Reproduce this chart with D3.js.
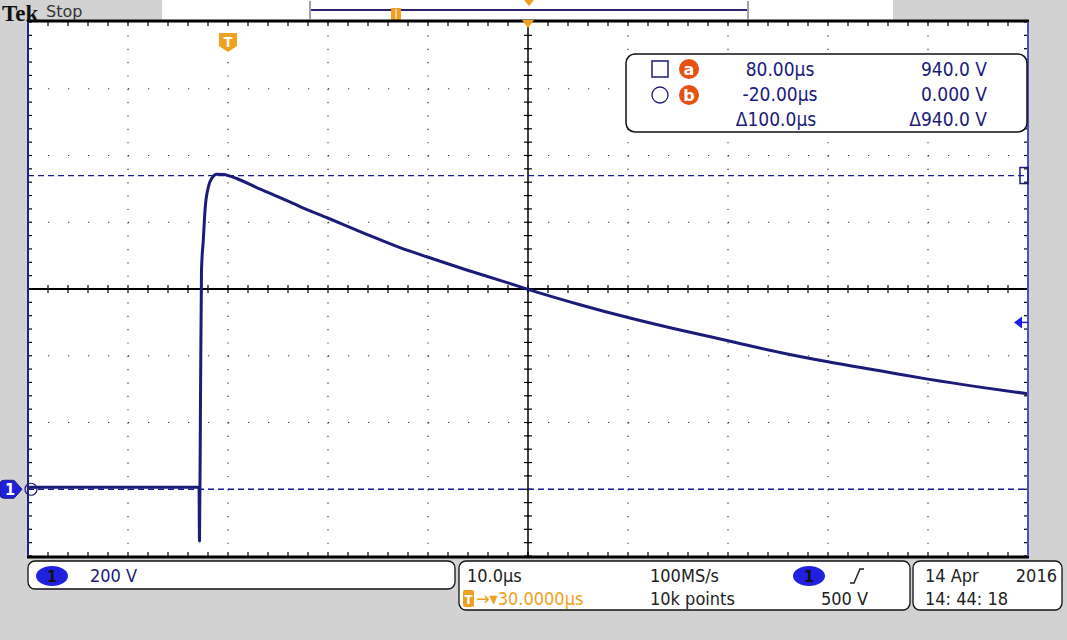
<!DOCTYPE html>
<html>
<head>
<meta charset="utf-8">
<script src="https://cdn.jsdelivr.net/npm/d3@7/dist/d3.min.js"></script>
<style>
  html, body { margin: 0; padding: 0; background: #d2d2d2; }
  svg { display: block; }
  text { font-family: "Liberation Sans Narrow", "DejaVu Sans Condensed", "Liberation Sans", sans-serif; }
</style>
</head>
<body>
<svg id="chart" width="1067" height="640"></svg>
<script>
// ---- data (time in µs relative to trigger, voltage in V) ----
const timeUs = [-20, -10, -2.9, -2.85, -2.75, -2.65, -2.47, -2.3, -1.97, -1.63, -1.13, -0.47, 0.87, 2.87, 5.2, 7.2, 10.03, 13.87, 17.2, 20.03, 23.87, 27.2, 30, 35.2, 40.2, 45.2, 50, 55.2, 60, 65.2, 70, 75.2, 80];
const voltsV = [6, 6, 6, -155, 267, 656, 746, 836, 905, 931, 944, 943, 931, 904, 874, 847, 812, 764, 724, 695, 657, 626, 599, 553, 513, 477, 445, 410, 382, 355, 330, 306, 286];

const timeTicks = [-20, -10, 0, 10, 20, 30, 40, 50, 60, 70, 80];
const voltTicks = [-200, 0, 200, 400, 600, 800, 1000, 1200, 1400];

const cursorTimes = ["80.00µs", "-20.00µs", "Δ100.0µs"];
const cursorVolts = ["940.0 V", "0.000 V", "Δ940.0 V"];
const cursorLevels = [940, 0];
const triggerLevel = 500;

// ---- layout ----
const svg = d3.select("#chart");
const L = 28, R = 1028, T = 22, B = 556;
const x = d3.scaleLinear().domain([-20, 80]).range([L, R]);
const y = d3.scaleLinear().domain([-200, 1400]).range([B, T]);
const navy = "#1b1b7a", blue = "#2020e0", orange = "#f0a020", red = "#e85010";

svg.append("rect").attr("width", 1067).attr("height", 640).attr("fill", "#d2d2d2");

// record bar
svg.append("rect").attr("x", 162).attr("y", 0).attr("width", 731).attr("height", 20).attr("fill", "#fff");
svg.append("rect").attr("x", 309).attr("y", 1).attr("width", 2).attr("height", 18).attr("fill", "#a0a0b0");
svg.append("rect").attr("x", 747).attr("y", 1).attr("width", 2).attr("height", 18).attr("fill", "#a0a0b0");
svg.append("line").attr("x1", 311).attr("x2", 747).attr("y1", 10).attr("y2", 10).attr("stroke", "#302070").attr("stroke-width", 2);
svg.append("rect").attr("x", 391).attr("y", 8).attr("width", 10).attr("height", 12).attr("fill", orange);
svg.append("line").attr("x1", 396).attr("x2", 396).attr("y1", 9).attr("y2", 19).attr("stroke", "#fff").attr("stroke-width", 1);
svg.append("path").attr("d", "M524,0 L534,0 L529,6 Z").attr("fill", orange);

// plot area
svg.append("rect").attr("x", L).attr("y", T).attr("width", R - L).attr("height", B - T).attr("fill", "#fff");

const g = svg.append("g");

// dotted grid
g.selectAll(".vg").data(timeTicks.slice(1, -1)).join("line")
  .attr("x1", d => x(d)).attr("x2", d => x(d)).attr("y1", T).attr("y2", B)
  .attr("stroke", "#333").attr("stroke-width", 1.2)
  .attr("stroke-dasharray", "1.2," + ((B - T) / 40 - 1.2));
g.selectAll(".hg").data(voltTicks.slice(1, -1)).join("line")
  .attr("x1", L).attr("x2", R).attr("y1", d => y(d)).attr("y2", d => y(d))
  .attr("stroke", "#333").attr("stroke-width", 1.2)
  .attr("stroke-dasharray", "1.2,18.8");

// center crosshair
const cx = x(30), cy = y(600);
g.append("line").attr("x1", L).attr("x2", R).attr("y1", cy).attr("y2", cy).attr("stroke", "#000").attr("stroke-width", 2);
g.append("line").attr("x1", cx).attr("x2", cx).attr("y1", T).attr("y2", B).attr("stroke", "#000").attr("stroke-width", 1.5);
const minorT = d3.range(-20, 80.01, 2);
const minorV = d3.range(-200, 1400.01, 40);
g.selectAll(".ht").data(minorT).join("line")
  .attr("x1", d => x(d)).attr("x2", d => x(d)).attr("y1", cy - 4).attr("y2", cy + 4).attr("stroke", "#000").attr("stroke-width", 1.2);
g.selectAll(".vt").data(minorV).join("line")
  .attr("x1", cx - 4).attr("x2", cx + 4).attr("y1", d => y(d)).attr("y2", d => y(d)).attr("stroke", "#000").attr("stroke-width", 1.2);
// edge ticks
g.selectAll(".tt").data(minorT).join("line")
  .attr("x1", d => x(d)).attr("x2", d => x(d)).attr("y1", T).attr("y2", T + 4).attr("stroke", "#000").attr("stroke-width", 1.2);
g.selectAll(".bt").data(minorT).join("line")
  .attr("x1", d => x(d)).attr("x2", d => x(d)).attr("y1", B - 4).attr("y2", B).attr("stroke", "#000").attr("stroke-width", 1.2);
g.selectAll(".lt").data(minorV).join("line")
  .attr("x1", L).attr("x2", L + 4).attr("y1", d => y(d)).attr("y2", d => y(d)).attr("stroke", "#000").attr("stroke-width", 1.2);
g.selectAll(".rt").data(minorV).join("line")
  .attr("x1", R - 4).attr("x2", R).attr("y1", d => y(d)).attr("y2", d => y(d)).attr("stroke", "#000").attr("stroke-width", 1.2);

// borders
svg.append("line").attr("x1", L - 1).attr("x2", R + 1).attr("y1", T - 1).attr("y2", T - 1).attr("stroke", "#000").attr("stroke-width", 3);
svg.append("line").attr("x1", L - 1).attr("x2", R + 1).attr("y1", B + 1).attr("y2", B + 1).attr("stroke", "#000").attr("stroke-width", 3);
svg.append("line").attr("x1", L).attr("x2", L).attr("y1", T).attr("y2", B).attr("stroke", "#202090").attr("stroke-width", 2);
svg.append("line").attr("x1", R).attr("x2", R).attr("y1", T).attr("y2", B).attr("stroke", "#5050c0").attr("stroke-width", 2);

// header (drawn after border so it sits on top)
svg.append("text").attr("x", 2).attr("y", 21).text("Tek")
  .style("font-family", "'Liberation Serif', serif").style("font-weight", "bold").style("font-size", "23px").attr("fill", "#111");
svg.append("text").attr("x", 46).attr("y", 17).text("Stop")
  .style("font-family", "'DejaVu Sans', sans-serif").style("font-size", "16px").attr("fill", "#333");

// cursor dashed lines
g.selectAll(".cur").data(cursorLevels).join("line")
  .attr("x1", L).attr("x2", R).attr("y1", d => y(d)).attr("y2", d => y(d))
  .attr("stroke", "#1b1b90").attr("stroke-width", 1.3).attr("stroke-dasharray", "6,4");

// waveform
const line = d3.line().x((d, i) => x(timeUs[i])).y(d => y(d)).curve(d3.curveMonotoneX);
g.append("path").attr("d", line(voltsV)).attr("fill", "none").attr("stroke", navy).attr("stroke-width", 3).attr("stroke-linejoin", "round");

// cursor markers
svg.append("rect").attr("x", R - 8).attr("y", y(cursorLevels[0]) - 8).attr("width", 8).attr("height", 16).attr("fill", "none").attr("stroke", navy).attr("stroke-width", 1.5);
svg.append("circle").attr("cx", L + 3).attr("cy", y(cursorLevels[1])).attr("r", 6).attr("fill", "none").attr("stroke", navy).attr("stroke-width", 1.2);

// trigger level arrow
const ty = y(triggerLevel);
svg.append("path").attr("d", `M${R - 14},${ty} L${R - 6},${ty - 6} L${R - 6},${ty + 6} Z`).attr("fill", blue);
svg.append("line").attr("x1", R - 8).attr("x2", R).attr("y1", ty).attr("y2", ty).attr("stroke", blue).attr("stroke-width", 1.5);

// channel 1 ground marker
const gy = y(0);
svg.append("path").attr("d", `M4,${gy - 9} L14,${gy - 9} L22,${gy} L14,${gy + 9} L4,${gy + 9} Q0,${gy + 9} 0,${gy + 5} L0,${gy - 5} Q0,${gy - 9} 4,${gy - 9} Z`)
  .attr("fill", blue).attr("stroke", navy).attr("stroke-width", 1);
svg.append("text").attr("x", 10).attr("y", gy + 6).attr("text-anchor", "middle").text("1")
  .style("font-weight", "bold").style("font-size", "16px").attr("fill", "#fff");

// trigger T markers
svg.append("path").attr("d", `M${x(0) - 9},33 L${x(0) + 9},33 L${x(0) + 9},46 L${x(0)},52 L${x(0) - 9},46 Z`).attr("fill", orange);
svg.append("text").attr("x", x(0)).attr("y", 47).attr("text-anchor", "middle").text("T").style("font-size", "14px").style("font-weight", "bold").attr("fill", "#fff");
svg.append("path").attr("d", `M${cx - 6},20 L${cx + 6},20 L${cx},28 Z`).attr("fill", orange);

// cursor readout box
svg.append("rect").attr("x", 626).attr("y", 54).attr("width", 401).attr("height", 78).attr("rx", 9)
  .attr("fill", "#fff").attr("stroke", "#111").attr("stroke-width", 1.5);
svg.append("rect").attr("x", 652).attr("y", 61).attr("width", 16).attr("height", 16).attr("fill", "none").attr("stroke", navy).attr("stroke-width", 1.5);
svg.append("circle").attr("cx", 660).attr("cy", 95).attr("r", 8).attr("fill", "none").attr("stroke", navy).attr("stroke-width", 1.3);
["a", "b"].forEach((c, i) => {
  svg.append("circle").attr("cx", 689).attr("cy", 69 + i * 26).attr("r", 10).attr("fill", red);
  svg.append("text").attr("x", 689).attr("y", 75 + i * 26).attr("text-anchor", "middle").text(c)
    .style("font-family", "'DejaVu Sans', sans-serif").style("font-weight", "bold").style("font-size", "16px").attr("fill", "#fff");
});
svg.selectAll(".ct").data(cursorTimes).join("text")
  .attr("x", (d, i) => i === 2 ? 776 : 780).attr("y", (d, i) => 76 + i * 25).attr("text-anchor", "middle").text(d => d)
  .style("font-size", "19px").attr("fill", navy);
svg.selectAll(".cv").data(cursorVolts).join("text")
  .attr("x", 987).attr("y", (d, i) => 76 + i * 25).attr("text-anchor", "end").text(d => d)
  .style("font-size", "19px").attr("fill", navy);

// bottom status boxes
const box = (x0, y0, w, h) => svg.append("rect").attr("x", x0).attr("y", y0).attr("width", w).attr("height", h).attr("rx", 7)
  .attr("fill", "#fff").attr("stroke", "#111").attr("stroke-width", 1.3);
box(28, 561, 427, 28);
box(459, 561, 451, 49);
box(913, 561, 149, 49);
const chip = (cx0, cy0) => {
  svg.append("ellipse").attr("cx", cx0).attr("cy", cy0).attr("rx", 16).attr("ry", 10).attr("fill", blue);
  svg.append("text").attr("x", cx0).attr("y", cy0 + 6).attr("text-anchor", "middle").text("1").style("font-size", "16px").style("font-weight", "bold").attr("fill", "#111");
};
chip(52, 576);
chip(809, 576);
const st = (tx, ty2, s, col, anchor) => svg.append("text").attr("x", tx).attr("y", ty2).attr("text-anchor", anchor || "start").text(s)
  .style("font-size", "18px").attr("fill", col || "#222");
st(90, 582, "200 V", navy);
st(467, 582, "10.0µs");
st(650, 582, "100MS/s");
st(650, 605, "10k points");
st(868, 605, "500 V", "#222", "end");
st(925, 582, "14 Apr");
st(1057, 582, "2016", "#222", "end");
st(925, 605, "14: 44: 18");
// rising edge icon
svg.append("path").attr("d", "M850,583 L854,583 L860,569 L864,569").attr("fill", "none").attr("stroke", "#222").attr("stroke-width", 1.5);
// trigger position
svg.append("rect").attr("x", 463).attr("y", 590).attr("width", 11).attr("height", 17).attr("rx", 2).attr("fill", orange);
svg.append("text").attr("x", 468.5).attr("y", 604).attr("text-anchor", "middle").text("T").style("font-size", "13px").style("font-weight", "bold").attr("fill", "#fff");
svg.append("text").attr("x", 476).attr("y", 605).text("→▾30.0000µs").style("font-size", "18px").attr("fill", orange);
</script>
</body>
</html>
